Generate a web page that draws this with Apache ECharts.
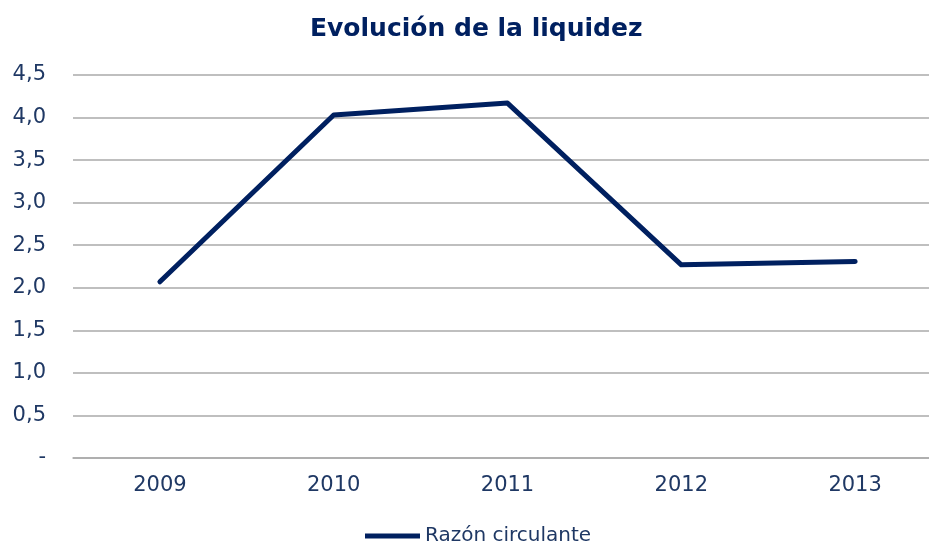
<!DOCTYPE html>
<html>
<head>
<meta charset="utf-8">
<script src="https://cdn.jsdelivr.net/npm/echarts@6/dist/echarts.min.js"></script>
<style>
html,body{margin:0;padding:0;background:#fff;overflow:hidden;width:929px;height:543px;}
#chart{width:942px;height:543px;}
</style>
</head>
<body>
<div id="chart"></div>
<script>
const titleText = "Evolución de la liquidez";
const years = ["2009", "2010", "2011", "2012", "2013"];
const seriesName = "Razón circulante";
const razonCirculante = [2.07, 4.03, 4.17, 2.27, 2.31];
const yTicks = [0, 0.5, 1.0, 1.5, 2.0, 2.5, 3.0, 3.5, 4.0, 4.5];

const chart = echarts.init(document.getElementById('chart'));
const textColor = '#1f3864';
const lineColor = '#002060';
const gridColor = '#aaaaaa';
chart.setOption({
  animation: false,
  backgroundColor: '#ffffff',
  title: {
    text: titleText,
    left: 310,
    top: 17,
    padding: 0,
    textStyle: { fontFamily: 'DejaVu Sans', fontWeight: 'bold', fontSize: 25, color: lineColor }
  },
  legend: {
    top: 526,
    left: 365,
    padding: 0,
    icon: 'rect',
    itemWidth: 55,
    itemHeight: 5,
    textStyle: { fontFamily: 'DejaVu Sans', fontSize: 20, color: textColor },
    data: [seriesName]
  },
  grid: { left: 73, right: 0, top: 75, bottom: 85 },
  xAxis: {
    type: 'category',
    data: years,
    boundaryGap: true,
    axisLine: { show: true, lineStyle: { color: gridColor, width: 1.5 } },
    axisTick: { show: false },
    axisLabel: { fontFamily: 'DejaVu Sans', fontSize: 21, color: textColor, margin: 17 }
  },
  yAxis: {
    type: 'value',
    min: 0,
    max: 4.5,
    interval: 0.5,
    axisLine: { show: false },
    axisTick: { show: false },
    splitLine: { lineStyle: { color: gridColor, width: 1.5 } },
    axisLabel: {
      fontFamily: 'DejaVu Sans', fontSize: 21, color: textColor, margin: 27,
      padding: [6, 0, 0, 0],
      formatter: function (v) {
        const t = yTicks.find(x => Math.abs(x - v) < 1e-9);
        const val = t === undefined ? v : t;
        return val === 0 ? '-' : val.toFixed(1).replace('.', ',');
      }
    }
  },
  series: [{
    name: seriesName,
    type: 'line',
    data: razonCirculante,
    symbol: 'none',
    lineStyle: { color: lineColor, width: 5, cap: 'round', join: 'round' },
    itemStyle: { color: lineColor }
  }]
});
</script>
</body>
</html>
